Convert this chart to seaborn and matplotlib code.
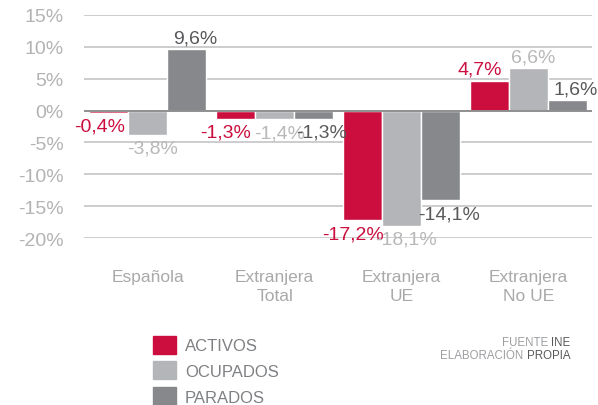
import matplotlib
matplotlib.use("Agg")
import matplotlib.pyplot as plt
import matplotlib.patches as mpatches
import seaborn as sns
import pandas as pd

# Data
categories = ["Española", "Extranjera\nTotal", "Extranjera\nUE", "Extranjera\nNo UE"]
series = ["ACTIVOS", "OCUPADOS", "PARADOS"]
activos = [-0.4, -1.3, -17.2, 4.7]
ocupados = [-3.8, -1.4, -18.1, 6.6]
parados = [9.6, -1.3, -14.1, 1.6]
y_ticks = [15, 10, 5, 0, -5, -10, -15, -20]

# Styles
bar_colors = ["#cc0e3e", "#b4b5b8", "#87888b"]
label_colors = ["#cc0e3e", "#b8b8ba", "#58595b"]
label_dx = [-7, 3.5, 6]  # horizontal offset of value labels, points

df = pd.DataFrame({
    "categoria": categories * 3,
    "serie": [s for s in series for _ in categories],
    "valor": activos + ocupados + parados,
})

sns.set_style("white")
plt.rcParams["font.family"] = ["Liberation Sans", "DejaVu Sans"]

fig = plt.figure(figsize=(5.98, 4.06), dpi=100)
ax = fig.add_axes([0.141, 0.411, 0.849, 0.55])

for t in y_ticks:
    ax.axhline(t, color="#8f8f91" if t == 0 else "#cdcdcf", lw=1.4, zorder=0 if t else 3)

sns.barplot(data=df, x="categoria", y="valor", hue="serie", hue_order=series,
            palette=bar_colors, width=0.92, gap=0, saturation=1, ax=ax,
            legend=False, zorder=2)

# value labels
for i, cont in enumerate(ax.containers):
    vals = [activos, ocupados, parados][i]
    for bar, val in zip(cont, vals):
        x = bar.get_x() + bar.get_width() / 2
        txt = f"{val:.1f}%".replace(".", ",")
        if val < 0:
            ax.annotate(txt, (x, val), xytext=(label_dx[i], -3.5), textcoords="offset points",
                        ha="center", va="top", fontsize=14, color=label_colors[i], zorder=4)
        else:
            ax.annotate(txt, (x, val), xytext=(label_dx[i], 2), textcoords="offset points",
                        ha="center", va="bottom", fontsize=14, color=label_colors[i], zorder=4)

ax.set_xlim(-0.5, 3.5)
ax.set_ylim(-20, 15)
ax.set_yticks(y_ticks)
ax.set_yticklabels([f"{t}%" for t in y_ticks])
ax.set_xlabel("")
ax.set_ylabel("")
ax.tick_params(axis="y", length=0, pad=15, labelsize=14, labelcolor="#b3b3b5")
ax.tick_params(axis="x", length=0, pad=22, labelsize=12.5, labelcolor="#a9a9ab")
for lbl in ax.get_xticklabels():
    lbl.set_linespacing(1.35)
sns.despine(ax=ax, left=True, bottom=True)

# Legend
handles = [mpatches.Patch(color=c, label=s) for c, s in zip(bar_colors, series)]
leg = fig.legend(handles=handles, loc="upper left", bbox_to_anchor=(0.256, 0.171),
                 frameon=False, fontsize=12, handlelength=1.4, handleheight=1.3,
                 handletextpad=0.5, labelspacing=0.45, borderaxespad=0, borderpad=0)
for t in leg.get_texts():
    t.set_color("#7f8083")

# Source
fig.canvas.draw()
r = fig.canvas.get_renderer()
x_right = 0.954
for yy, light, dark in [(0.155, "FUENTE ", "INE"), (0.122, "ELABORACIÓN ", "PROPIA")]:
    td = fig.text(x_right, yy, dark, ha="right", va="center", fontsize=8.3, color="#58595b")
    bb = td.get_window_extent(renderer=r)
    xl = bb.x0 / fig.bbox.width
    fig.text(xl, yy, light, ha="right", va="center", fontsize=8.3, color="#9d9ea1")

fig.savefig("out.png", dpi=100)
